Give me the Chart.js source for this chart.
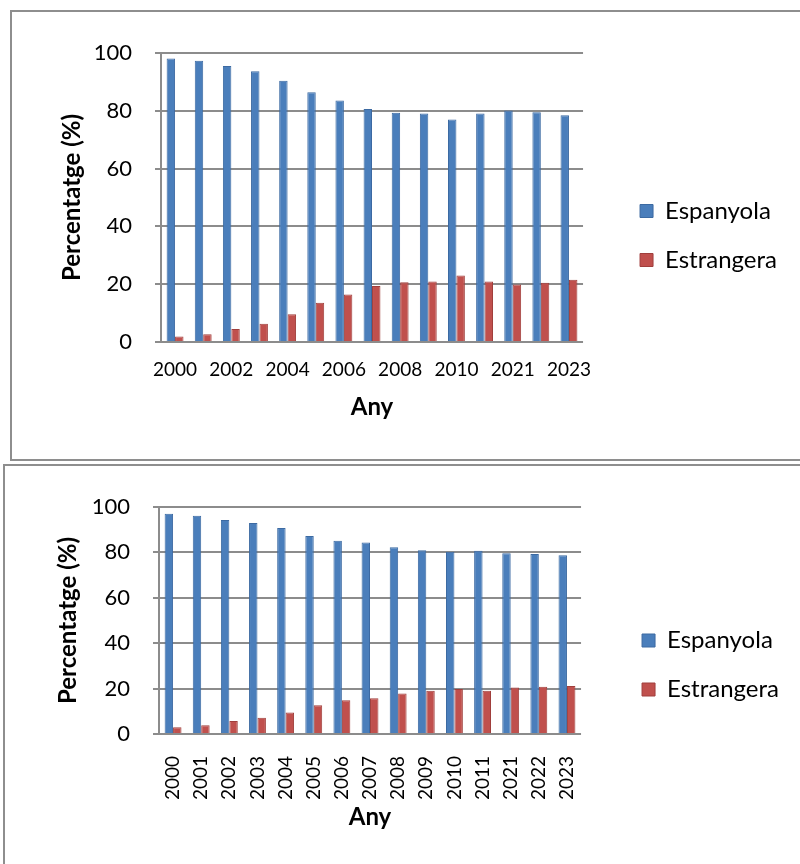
<!DOCTYPE html>
<html>
<head>
<meta charset="utf-8">
<script src="https://cdn.jsdelivr.net/npm/chart.js@4.4.1/dist/chart.umd.min.js"></script>
<style>
  body { margin: 0; background: #fff; width: 800px; height: 864px; overflow: hidden; position: relative; }
  .box { position: absolute; border: 2px solid #8e8e8e; }
  #box1 { left: 10px; top: 10px; width: 800px; height: 447px; }
  #box2 { left: 3px; top: 464px; width: 800px; height: 410px; }
  canvas { position: absolute; left: 0; top: 0; }
</style>
</head>
<body>
<div class="box" id="box1"><canvas id="chart1" width="788" height="447"></canvas></div>
<div class="box" id="box2"><canvas id="chart2" width="795" height="398"></canvas></div>
<script>
// anys (categories) - same for both charts
const years = ['2000', '2001', '2002', '2003', '2004', '2005', '2006', '2007',
               '2008', '2009', '2010', '2011', '2021', '2022', '2023'];

// first chart
const espanyola1 = [98.1, 97.3, 95.5, 93.7, 90.4, 86.4, 83.6, 80.6, 79.3, 79.1, 77.0, 79.1, 80.1, 79.5, 78.5];
const estrangera1 = [1.9, 2.7, 4.5, 6.3, 9.6, 13.6, 16.4, 19.4, 20.7, 20.9, 23.0, 20.9, 19.9, 20.5, 21.5];

// second chart
const espanyola2 = [97.0, 96.2, 94.3, 92.9, 90.7, 87.2, 85.1, 84.4, 82.3, 80.9, 80.3, 80.7, 79.6, 79.3, 78.7];
const estrangera2 = [3.0, 3.8, 5.7, 7.2, 9.5, 12.7, 14.9, 15.8, 17.8, 19.1, 19.8, 19.1, 20.5, 20.8, 21.2];

const seriesNames = ['Espanyola', 'Estrangera'];
const yTitle = 'Percentatge (%)';
const xTitle = 'Any';

Chart.defaults.font.family = 'Lato';
Chart.defaults.color = '#000';

const gridGray = '#8c8c8c';

function buildChart(id, esp, est, opt) {
    const ctx = document.getElementById(id).getContext('2d');
    return new Chart(ctx, {
        type: 'bar',
        data: {
            labels: years,
            datasets: [
                { label: seriesNames[0], data: esp, backgroundColor: '#4a7ebb', borderColor: '#3c6aa2', borderWidth: 1 },
                { label: seriesNames[1], data: est, backgroundColor: '#c0504d', borderColor: '#a03f3c', borderWidth: 1 }
            ]
        },
        options: {
            responsive: false,
            animation: false,
            categoryPercentage: 0.6,
            barPercentage: 1.0,
            layout: { padding: { top: 0, left: 0, bottom: 0, right: opt.padRight } },
            plugins: {
                // empty title just reserves the space above the plot
                title: { display: true, text: '', font: { size: 10, lineHeight: 1 }, padding: { top: opt.top - 10, bottom: 0 } },
                legend: {
                    position: 'right',
                    maxWidth: 220,
                    labels: { boxWidth: 13, boxHeight: 13, padding: 25, font: { size: 24 }, color: '#000' }
                },
                tooltip: { enabled: false }
            },
            scales: {
                x: {
                    grid: { display: false },
                    border: { display: false },
                    ticks: {
                        autoSkip: false,
                        maxRotation: opt.rotate ? 90 : 0,
                        minRotation: opt.rotate ? 90 : 0,
                        padding: opt.xTickPad,
                        font: { size: 19 },
                        callback: function (v, i) {
                            if (opt.everyOther && i % 2 === 1) return '';
                            return this.getLabelForValue(v);
                        }
                    },
                    title: { display: true, text: xTitle, font: { size: 24, weight: 'bold' }, padding: { top: 0, bottom: opt.xTitlePad } },
                    afterFit: s => { s.height = opt.xHeight; }
                },
                y: {
                    min: 0, max: 100,
                    ticks: { stepSize: 20, padding: 23, font: { size: 22 } },
                    grid: { color: gridGray, lineWidth: 2, tickLength: 6 },
                    border: { display: true, color: gridGray, width: 2 },
                    title: { display: true, text: yTitle, font: { size: 24, weight: 'bold' }, padding: { top: opt.yTitlePad, bottom: 0 } },
                    afterFit: s => { s.width = opt.yWidth; }
                },
                // invisible spacer between plot and legend
                gap: {
                    type: 'linear',
                    position: 'right',
                    grid: { display: false },
                    border: { display: false },
                    ticks: { display: false },
                    afterFit: s => { s.width = opt.gap; }
                }
            }
        }
    });
}

buildChart('chart1', espanyola1, estrangera1, {
    top: 41, xHeight: 117, yWidth: 149, yTitlePad: 46, xTitlePad: 37, xTickPad: 8,
    gap: 32, padRight: 13, everyOther: true, rotate: false
});
buildChart('chart2', espanyola2, estrangera2, {
    top: 41, xHeight: 130, yWidth: 154, yTitlePad: 49, xTitlePad: 32, xTickPad: 14,
    gap: 36, padRight: 11, everyOther: false, rotate: true
});
</script>
</body>
</html>
